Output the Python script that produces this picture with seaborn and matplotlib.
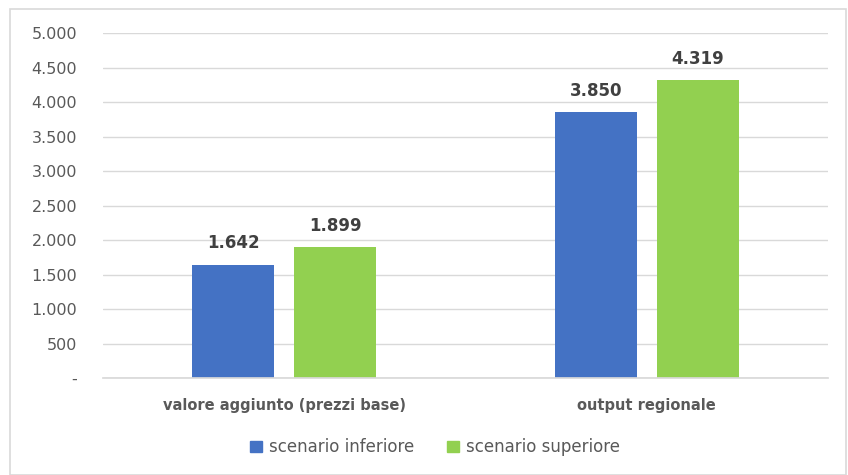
import numpy as np
import matplotlib
matplotlib.use("Agg")
import matplotlib.pyplot as plt
import matplotlib.patches as mpatches
from matplotlib.ticker import FuncFormatter
import pandas as pd
import seaborn as sns

# data
categories = ["valore aggiunto (prezzi base)", "output regionale"]
scenarios = ["scenario inferiore", "scenario superiore"]
inferiore = [1642, 3850]
superiore = [1899, 4319]
colors = ["#4472C4", "#92D050"]

df = pd.DataFrame({
    "categoria": categories * 2,
    "scenario": [scenarios[0]] * 2 + [scenarios[1]] * 2,
    "valore": inferiore + superiore,
})

sns.set_theme(style="white")
plt.rcParams['font.family'] = ['DejaVu Sans']
txt = "#595959"

fig = plt.figure(figsize=(8.48, 4.75), dpi=100)
ax = fig.add_axes([0.1215, 0.204, 0.855, 0.7265])

sns.barplot(data=df, x="categoria", y="valore", hue="scenario",
            palette=colors, width=0.563, gap=0.2, ax=ax, legend=False,
            saturation=1, errorbar=None, linewidth=0)

ax.set_ylim(0, 5000)
ax.set_yticks(np.arange(0, 5001, 500))
ax.yaxis.set_major_formatter(FuncFormatter(
    lambda v, p: "-" if v == 0 else "{:,.0f}".format(v).replace(",", ".")))
ax.set_xlim(-0.5, 1.5)
ax.grid(axis="y", color="#D9D9D9", lw=1)
ax.set_axisbelow(True)
for s in ["top", "right", "left"]:
    ax.spines[s].set_visible(False)
ax.spines["bottom"].set_color("#D9D9D9")
ax.tick_params(axis="y", labelsize=11.5, colors=txt, length=0, pad=18.5)
ax.tick_params(axis="x", labelsize=10.5, colors=txt, length=0, pad=14)
for lab in ax.get_xticklabels():
    lab.set_fontweight("bold")
ax.set_xlabel("")
ax.set_ylabel("")

for cont in ax.containers:
    ax.bar_label(cont, labels=["{:,.0f}".format(v).replace(",", ".") for v in cont.datavalues],
                 padding=9, fontsize=12, fontweight="bold", color="#404040")

handles = [mpatches.Patch(color=c, label=s) for c, s in zip(colors, scenarios)]
fig.legend(handles=handles, loc="center", bbox_to_anchor=(0.513, 0.058), ncol=2,
           frameon=False, fontsize=12, labelcolor=txt, handlelength=0.7,
           handleheight=0.7, handletextpad=0.4, columnspacing=2.0)

fig.add_artist(mpatches.Rectangle((10 / 848, 0), 836 / 848, 1 - 9 / 475,
                                  transform=fig.transFigure, fill=False,
                                  edgecolor="#D9D9D9", lw=1.2))

fig.savefig("out.png", dpi=100)
